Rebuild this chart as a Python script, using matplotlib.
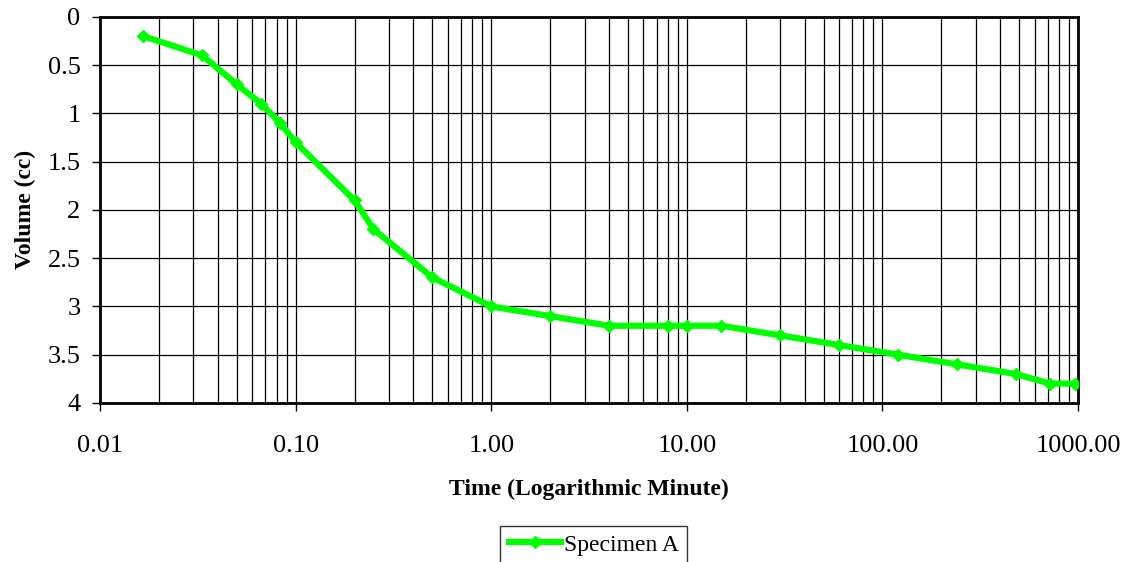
import matplotlib
matplotlib.use("Agg")
import matplotlib.pyplot as plt
from matplotlib.ticker import LogLocator, FuncFormatter, NullFormatter

plt.rcParams['font.family'] = ['Liberation Serif', 'DejaVu Serif']

# elapsed time (minutes) and volume change (cc)
time_min = [1/60, 2/60, 3/60, 4/60, 5/60, 6/60, 12/60, 15/60, 0.5, 1, 2, 4, 8, 10, 15,
            30, 60, 120, 240, 480, 720, 960]
volume_cc = [0.2, 0.4, 0.7, 0.9, 1.1, 1.3, 1.9, 2.2, 2.7, 3.0, 3.1, 3.2, 3.2, 3.2, 3.2,
             3.3, 3.4, 3.5, 3.6, 3.7, 3.8, 3.8]
y_ticks = [0, 0.5, 1, 1.5, 2, 2.5, 3, 3.5, 4]

fig = plt.figure(figsize=(11.28, 5.62), dpi=100)
ax = fig.add_axes([0.0887, 0.283, 0.867, 0.687])

ax.plot(time_min, volume_cc, color='#00ff00', lw=4.5, marker='D', ms=6,
        label='Specimen A', zorder=3)

ax.set_xscale('log')
ax.set_xlim(0.01, 1000)
ax.set_ylim(4, 0)
ax.set_yticks(y_ticks)
ax.set_yticklabels([f'{v:g}' for v in y_ticks])
ax.xaxis.set_major_locator(LogLocator(base=10, numticks=10))
ax.xaxis.set_major_formatter(FuncFormatter(lambda v, p: f'{v:.2f}'))
ax.xaxis.set_minor_locator(LogLocator(base=10, subs=range(2, 10), numticks=100))
ax.xaxis.set_minor_formatter(NullFormatter())

ax.grid(True, which='major', axis='both', color='black', lw=0.9)
ax.grid(True, which='minor', axis='x', color='black', lw=0.9)
ax.tick_params(axis='x', which='minor', length=0)
ax.tick_params(axis='both', which='major', direction='out', length=6, width=1,
               labelsize=19)
ax.tick_params(axis='x', which='major', pad=17)
ax.tick_params(axis='y', which='major', pad=8)

for s in ax.spines.values():
    s.set_linewidth(2)
    s.set_color('black')

ax.set_xlabel('Time (Logarithmic Minute)', fontsize=17, fontweight='bold', labelpad=16)
ax.set_ylabel('Volume (cc)', fontsize=17, fontweight='bold', labelpad=8)

leg = ax.legend(loc='upper center', bbox_to_anchor=(0.505, -0.318), fontsize=17,
                frameon=True, fancybox=False, edgecolor='black', handlelength=2.2,
                handletextpad=0.15, borderpad=0.35, borderaxespad=0)
leg.get_frame().set_linewidth(1)

fig.savefig('out.png', dpi=100)
